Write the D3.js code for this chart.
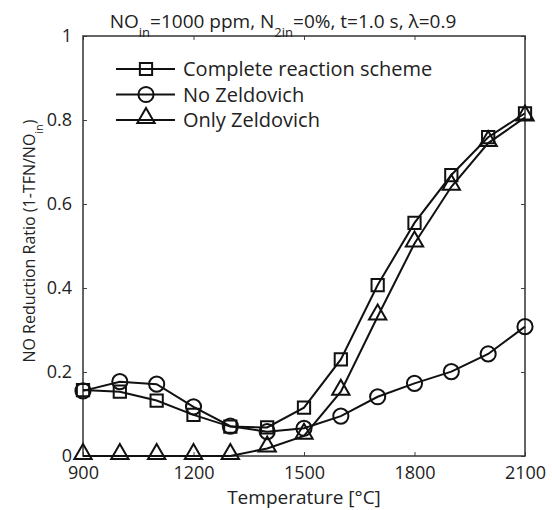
<!DOCTYPE html>
<html>
<head>
<meta charset="utf-8">
<script src="https://cdn.jsdelivr.net/npm/d3@7"></script>
<style>
  body { margin: 0; background: #fff; }
  text { font-family: "Open Sans", "Noto Sans", sans-serif; fill: #222; }
</style>
</head>
<body>
<div id="chart"></div>
<script>
const temps = [900, 1000, 1100, 1200, 1300, 1400, 1500, 1600, 1700, 1800, 1900, 2000, 2100];
const complete = [0.157, 0.153, 0.132, 0.098, 0.070, 0.068, 0.115, 0.230, 0.407, 0.555, 0.669, 0.759, 0.816];
const noZeldovich = [0.155, 0.177, 0.171, 0.117, 0.071, 0.058, 0.066, 0.095, 0.141, 0.173, 0.201, 0.243, 0.308];
const onlyZeldovich = [0, 0, 0, 0, 0, 0.018, 0.048, 0.153, 0.332, 0.506, 0.641, 0.745, 0.806];
const xTicks = [900, 1200, 1500, 1800, 2100];
const yTicks = [0, 0.2, 0.4, 0.6, 0.8, 1];

const series = [
  { name: 'Complete reaction scheme', values: complete, marker: 'square' },
  { name: 'No Zeldovich', values: noZeldovich, marker: 'circle' },
  { name: 'Only Zeldovich', values: onlyZeldovich, marker: 'triangle' }
];

const width = 552, height = 510;
const margin = { top: 36, right: 27, bottom: 54, left: 83 };
const w = width - margin.left - margin.right;
const h = height - margin.top - margin.bottom;

const svg = d3.select('#chart')
  .append('svg')
  .attr('width', width)
  .attr('height', height)
  .append('g')
  .attr('transform', `translate(${margin.left}, ${margin.top})`);

const scaleX = d3.scaleLinear().domain([900, 2100]).range([0, w]);
const scaleY = d3.scaleLinear().domain([0, 1]).range([h, 0]);

// axes with inward ticks, mirrored on top / right
const styleAxis = g => {
  g.select('.domain').remove();
  g.selectAll('line').attr('stroke', '#444');
  g.selectAll('text').style('font-size', '18px').attr('fill', '#222');
};

svg.append('g')
  .attr('transform', `translate(0, ${h})`)
  .call(d3.axisBottom(scaleX).tickValues(xTicks).tickSizeInner(-4).tickSizeOuter(0).tickPadding(10).tickFormat(d3.format('d')))
  .call(styleAxis);

svg.append('g')
  .call(d3.axisTop(scaleX).tickValues(xTicks).tickSizeInner(-4).tickSizeOuter(0).tickFormat(''))
  .call(styleAxis);

svg.append('g')
  .call(d3.axisLeft(scaleY).tickValues(yTicks).tickSizeInner(-4).tickSizeOuter(0).tickPadding(11).tickFormat(d => d === 0 || d === 1 ? d3.format('d')(d) : d3.format('.1f')(d)))
  .call(styleAxis);

svg.append('g')
  .attr('transform', `translate(${w}, 0)`)
  .call(d3.axisRight(scaleY).tickValues(yTicks).tickSizeInner(-4).tickSizeOuter(0).tickFormat(''))
  .call(styleAxis);

svg.append('rect')
  .attr('width', w)
  .attr('height', h)
  .attr('fill', 'none')
  .attr('stroke', '#333')
  .attr('stroke-width', 1.5);

const symbolPath = {
  square: d3.symbol().type(d3.symbolSquare).size(150)(),
  circle: d3.symbol().type(d3.symbolCircle).size(180)(),
  triangle: d3.symbol().type(d3.symbolTriangle).size(130)()
};

const line = d3.line()
  .x((d, i) => scaleX(temps[i]))
  .y(d => scaleY(d));

series.forEach(s => {
  svg.append('path')
    .datum(s.values)
    .attr('fill', 'none')
    .attr('stroke', '#111')
    .attr('stroke-width', 2)
    .attr('d', line);

  svg.selectAll(null)
    .data(s.values)
    .enter()
    .append('path')
    .attr('d', symbolPath[s.marker])
    .attr('transform', (d, i) => `translate(${scaleX(temps[i])}, ${scaleY(d) - (s.marker === 'triangle' ? 2 : 0)})`)
    .attr('fill', 'none')
    .attr('stroke', '#111')
    .attr('stroke-width', 2);
});

// legend
const legend = svg.append('g').attr('transform', 'translate(33, 33)');
series.forEach((s, i) => {
  const row = legend.append('g').attr('transform', `translate(0, ${i * 25.5})`);
  row.append('line')
    .attr('x1', 0).attr('x2', 59)
    .attr('stroke', '#111').attr('stroke-width', 2);
  row.append('path')
    .attr('d', symbolPath[s.marker])
    .attr('transform', `translate(30, ${s.marker === 'triangle' ? -2 : 0})`)
    .attr('fill', 'none').attr('stroke', '#111').attr('stroke-width', 2);
  row.append('text')
    .attr('x', 67).attr('y', 7)
    .style('font-size', '20px')
    .text(s.name);
});

// title
const title = svg.append('text')
  .attr('x', 283 - margin.left)
  .attr('y', -8)
  .attr('text-anchor', 'middle')
  .style('font-size', '19px');
title.append('tspan').text('NO');
title.append('tspan').attr('baseline-shift', 'sub').style('font-size', '13px').text('in');
title.append('tspan').text('=1000 ppm, N');
title.append('tspan').attr('baseline-shift', 'sub').style('font-size', '13px').text('2in');
title.append('tspan').text('=0%, t=1.0 s, λ=0.9');

// axis labels
svg.append('text')
  .attr('x', w / 2)
  .attr('y', h + 48)
  .attr('text-anchor', 'middle')
  .style('font-size', '19px')
  .text('Temperature [°C]');

const yLabel = svg.append('text')
  .attr('transform', `translate(-48, ${h / 2 - 5}) rotate(-90)`)
  .attr('text-anchor', 'middle')
  .style('font-size', '16px');
yLabel.append('tspan').text('NO Reduction Ratio (1-TFN/NO');
yLabel.append('tspan').attr('baseline-shift', 'sub').style('font-size', '11px').text('in');
yLabel.append('tspan').text(')');
</script>
</body>
</html>
